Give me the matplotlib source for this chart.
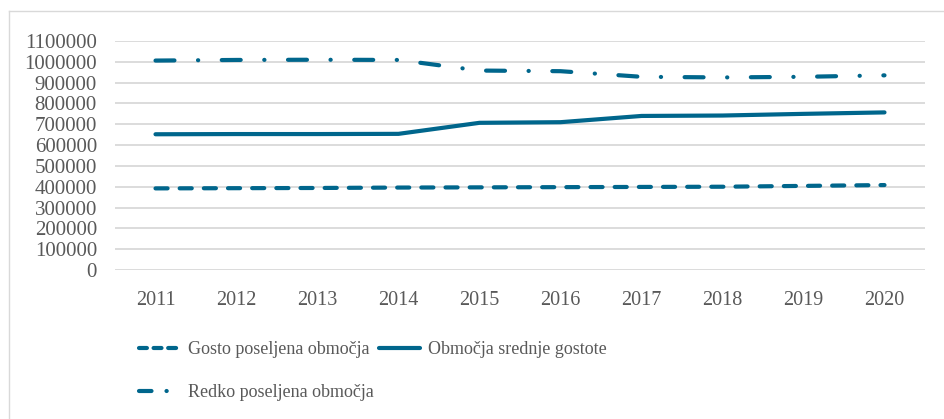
import matplotlib.pyplot as plt
from matplotlib.lines import Line2D

# data
years = ['2011', '2012', '2013', '2014', '2015', '2016', '2017', '2018', '2019', '2020']
gosto = [392000, 393000, 394000, 396000, 397000, 398000, 399000, 400000, 404000, 408000]
srednje = [652000, 653000, 653000, 654000, 707000, 710000, 740000, 742000, 750000, 757000]
redko = [1006000, 1009000, 1010000, 1009000, 958000, 955000, 928000, 925000, 928000, 935000]
labels = ['Gosto poseljena območja', 'Območja srednje gostote', 'Redko poseljena območja']
yticks = list(range(0, 1100001, 100000))

color = '#00668c'
text_color = '#595959'
plt.rcParams['font.family'] = ['Liberation Serif', 'DejaVu Serif']

fig = plt.figure(figsize=(9.44, 4.19), dpi=100)
ax = fig.add_axes([115 / 944, 1 - 270 / 419, 810 / 944, 229 / 419])

x = range(len(years))
lw = 3.0
l1, = ax.plot(x, gosto, color=color, lw=lw, dash_capstyle='round',
              solid_capstyle='round', dashes=(2.9, 2.9))
l2, = ax.plot(x, srednje, color=color, lw=lw, solid_capstyle='round')
l3, = ax.plot(x, redko, color=color, lw=lw, dash_capstyle='round',
              dashes=(4.55, 5.65, 0.05, 5.65))

ax.set_xlim(-0.5, len(years) - 0.5)
ax.set_ylim(0, 1100000)
ax.set_xticks(list(x))
ax.set_xticklabels(years)
ax.set_yticks(yticks)
ax.set_yticklabels([str(v) for v in yticks])
ax.tick_params(axis='both', length=0, colors=text_color)
ax.tick_params(axis='y', pad=13, labelsize=15)
ax.tick_params(axis='x', pad=15, labelsize=14.5)
ax.grid(axis='y', color='#d9d9d9', lw=1.3)
ax.set_axisbelow(True)
for s in ax.spines.values():
    s.set_visible(False)

# legend, row-major order of the reference
leg = fig.legend([l1, l3, l2], [labels[0], labels[2], labels[1]], ncol=2,
                 loc='upper left', bbox_to_anchor=(139 / 944, 1 - 341 / 419),
                 frameon=False, fontsize=13, handlelength=2.3,
                 handletextpad=0.4, columnspacing=0.3, labelspacing=1.45,
                 borderaxespad=0, borderpad=0)
for t in leg.get_texts():
    t.set_color(text_color)
leg.legend_handles[0].set_dashes((1.9, 1.6))
leg.legend_handles[1].set_dashes((3.0, 3.6, 0.05, 3.6))

# chart border (only top and left edges are visible)
fig.add_artist(Line2D([8.5 / 944, 8.5 / 944], [0, 1 - 11 / 419],
                      transform=fig.transFigure, color='#d9d9d9', lw=1))
fig.add_artist(Line2D([8.5 / 944, 1], [1 - 11 / 419, 1 - 11 / 419],
                      transform=fig.transFigure, color='#d9d9d9', lw=1))

plt.savefig('out.png', dpi=100)
